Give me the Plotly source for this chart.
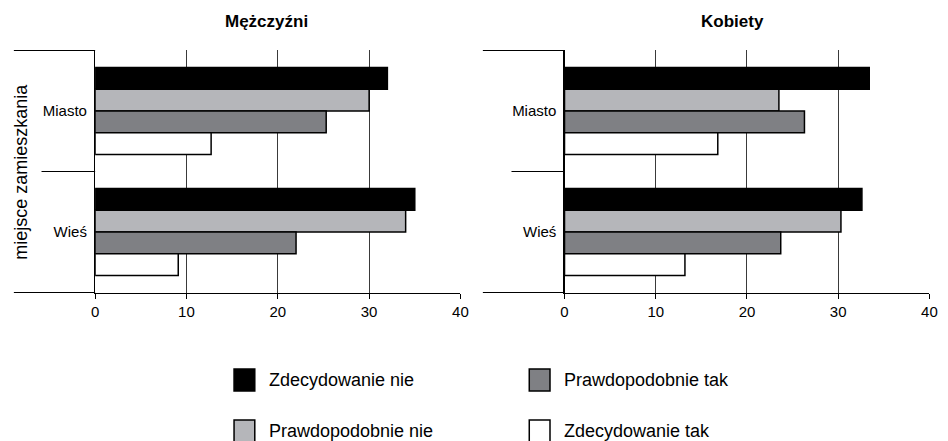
import plotly.graph_objects as go

# ---- data ----
categories = ["Miasto", "Wieś"]
series_names = ["Zdecydowanie nie", "Prawdopodobnie nie", "Prawdopodobnie tak", "Zdecydowanie tak"]

men_zdecydowanie_nie = [32.0, 35.0]
men_prawdopodobnie_nie = [30.0, 34.0]
men_prawdopodobnie_tak = [25.3, 22.0]
men_zdecydowanie_tak = [12.7, 9.1]

women_zdecydowanie_nie = [33.4, 32.6]
women_prawdopodobnie_nie = [23.5, 30.3]
women_prawdopodobnie_tak = [26.3, 23.7]
women_zdecydowanie_tak = [16.8, 13.2]

x_ticks = [0, 10, 20, 30, 40]
panel_titles = ["Mężczyźni", "Kobiety"]
y_title = "miejsce zamieszkania"

# ---- style ----
colors = ["#000000", "#b5b6ba", "#7f8084", "#ffffff"]
FONT = "Liberation Sans, Arial, sans-serif"
W, H = 948, 441

men = [men_zdecydowanie_nie, men_prawdopodobnie_nie, men_prawdopodobnie_tak, men_zdecydowanie_tak]
women = [women_zdecydowanie_nie, women_prawdopodobnie_nie, women_prawdopodobnie_tak, women_zdecydowanie_tak]

fig = go.Figure()
for name, vals, col in zip(series_names, men, colors):
    fig.add_trace(go.Bar(y=categories, x=vals, orientation="h", name=name,
                         marker=dict(color=col, line=dict(color="#000000", width=1.5)),
                         xaxis="x", yaxis="y", showlegend=False))
for name, vals, col in zip(series_names, women, colors):
    fig.add_trace(go.Bar(y=categories, x=vals, orientation="h", name=name,
                         marker=dict(color=col, line=dict(color="#000000", width=1.5)),
                         xaxis="x2", yaxis="y2", showlegend=False))

def px_x(p):
    return p / W

def px_y(p):
    return (H - p) / H

plot_top, plot_bot = 50, 293
left_dom = [px_x(92.3), px_x(462.3)]
right_dom = [px_x(567.7), px_x(937.3)]
y_dom = [px_y(plot_bot), px_y(plot_top)]

xaxis_common = dict(range=[0, 40], tickvals=x_ticks, showline=True, linecolor="#000000", linewidth=1,
                    ticks="outside", ticklen=5, tickcolor="#000000", tickwidth=1,
                    showgrid=True, gridcolor="#3a3a3a", gridwidth=1, zeroline=False,
                    tickfont=dict(family=FONT, size=15, color="#000000"), fixedrange=True)
yaxis_common = dict(type="category", categoryorder="array", categoryarray=categories,
                    autorange="reversed", showline=True, linecolor="#000000", linewidth=1.2,
                    ticks="", showgrid=False, zeroline=False, ticklabelstandoff=4,
                    tickfont=dict(family=FONT, size=15, color="#000000"), fixedrange=True)

fig.update_layout(
    width=W, height=H,
    margin=dict(l=0, r=0, t=0, b=0),
    paper_bgcolor="#ffffff", plot_bgcolor="#ffffff",
    barmode="group", bargap=0.28, bargroupgap=0,
    xaxis=dict(domain=left_dom, anchor="y", **xaxis_common),
    yaxis=dict(domain=y_dom, anchor="x", **yaxis_common),
    xaxis2=dict(domain=right_dom, anchor="y2", **xaxis_common),
    yaxis2=dict(domain=y_dom, anchor="x2", **yaxis_common),
    showlegend=False,
    hovermode=False,
)

shapes = []
# category frame lines extending left of the axes
for xr, yr, dom, left_full, left_mid in [("x domain", "y", left_dom, 10, 38),
                                          ("x2 domain", "y2", right_dom, 485, 514)]:
    dw = (dom[1] - dom[0]) * W
    x_full = (left_full - dom[0] * W) / dw
    x_mid = (left_mid - dom[0] * W) / dw
    shapes.append(dict(type="line", xref=xr, yref=yr, x0=x_full, x1=0, y0=-0.5, y1=-0.5,
                       line=dict(color="#000000", width=1)))
    shapes.append(dict(type="line", xref=xr, yref=yr, x0=x_mid, x1=0, y0=0.5, y1=0.5,
                       line=dict(color="#000000", width=1)))
    shapes.append(dict(type="line", xref=xr, yref=yr, x0=x_full, x1=0, y0=1.5, y1=1.5,
                       line=dict(color="#000000", width=1)))

annotations = []
# panel titles
for title, cx in zip(panel_titles, [266, 738]):
    annotations.append(dict(text=f"<b>{title}</b>", x=px_x(cx), y=px_y(22), xref="paper", yref="paper",
                            showarrow=False, xanchor="center", yanchor="middle",
                            font=dict(family=FONT, size=17, color="#000000")))
# y axis title
annotations.append(dict(text=y_title, x=px_x(17), y=px_y(172), xref="paper", yref="paper",
                        showarrow=False, textangle=-90, xanchor="center", yanchor="middle",
                        font=dict(family=FONT, size=18, color="#000000")))

# manual legend (2 columns x 2 rows)
legend_pos = [(233, 380), (233, 431), (532, 380), (532, 431)]
for name, col, (lx, ly) in zip(series_names, colors, legend_pos):
    shapes.append(dict(type="rect", xref="paper", yref="paper",
                       x0=px_x(lx), x1=px_x(lx + 21), y0=px_y(ly - 11), y1=px_y(ly + 11),
                       fillcolor=col, line=dict(color="#000000", width=1.5)))
    annotations.append(dict(text=name, x=px_x(lx + 33), y=px_y(ly), xref="paper", yref="paper",
                            showarrow=False, xanchor="left", yanchor="middle",
                            font=dict(family=FONT, size=18, color="#000000")))

fig.update_layout(shapes=shapes, annotations=annotations)
fig.write_html("out.html", config={"displayModeBar": False, "staticPlot": True},
               post_script="document.body.style.margin='0px';document.body.style.overflow='hidden';")
